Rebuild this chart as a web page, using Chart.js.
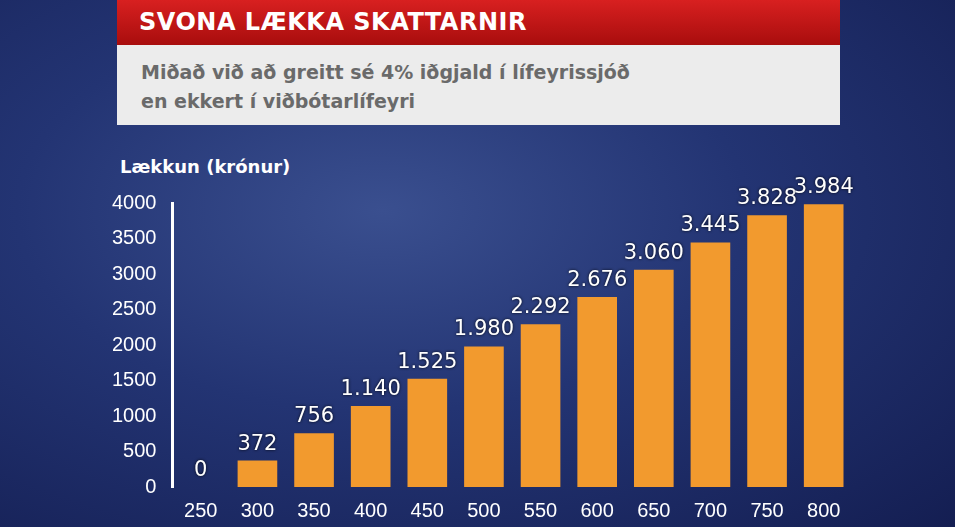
<!DOCTYPE html>
<html>
<head>
<meta charset="utf-8">
<script src="https://cdn.jsdelivr.net/npm/chart.js@4"></script>
<style>
  body { margin: 0; width: 955px; height: 527px; overflow: hidden;
    background: radial-gradient(ellipse at 40% 40%, #3a4f8f 0%, #233473 45%, #141e52 100%);
    font-family: "DejaVu Sans", sans-serif; }
  #head { position: absolute; left: 117px; top: 0; width: 723px; height: 45px;
    background: linear-gradient(#d82020, #a80d0d); color: #fff; font-weight: bold;
    font-size: 24px; line-height: 45px; padding-left: 22px; box-sizing: border-box; letter-spacing: 0.5px; }
  #sub { position: absolute; left: 117px; top: 45px; width: 723px; height: 80px;
    background: #ececec; color: #6a6a6a; font-weight: bold; font-size: 19px;
    padding: 13px 0 0 24px; box-sizing: border-box; line-height: 29px; }
  #ylab { position: absolute; left: 120px; top: 156px; color: #fff; font-weight: bold; font-size: 18px; }
  #wrap { position: absolute; left: 104px; top: 160px; width: 756px; height: 367px; }
</style>
</head>
<body>
<div id="head">SVONA LÆKKA SKATTARNIR</div>
<div id="sub">Miðað við að greitt sé 4% iðgjald í lífeyrissjóð<br>en ekkert í viðbótarlífeyri</div>
<div id="ylab">Lækkun (krónur)</div>
<div id="wrap"><canvas id="c"></canvas></div>
<script>
// gögn
const flokkar = ['250','300','350','400','450','500','550','600','650','700','750','800'];
const laekkun = [0, 372, 756, 1140, 1525, 1980, 2292, 2676, 3060, 3445, 3828, 3984];
const merki = ['0','372','756','1.140','1.525','1.980','2.292','2.676','3.060','3.445','3.828','3.984'];

const gildiPlugin = {
  id: 'gildi',
  afterDatasetsDraw(chart) {
    const ctx = chart.ctx;
    const meta = chart.getDatasetMeta(0);
    ctx.save();
    ctx.font = '21px "DejaVu Sans"';
    ctx.textAlign = 'center';
    ctx.textBaseline = 'bottom';
    ctx.fillStyle = '#fff';
    ctx.shadowColor = 'rgba(0,0,0,0.9)';
    ctx.shadowBlur = 3;
    meta.data.forEach((bar, i) => ctx.fillText(merki[i], bar.x, bar.y - 6));
    ctx.restore();
  }
};

new Chart(document.getElementById('c'), {
  type: 'bar',
  data: { labels: flokkar, datasets: [{ data: laekkun, backgroundColor: '#f29a2e',
    barPercentage: 0.7, categoryPercentage: 1 }] },
  options: {
    responsive: true, maintainAspectRatio: false, animation: false,
    layout: { padding: { top: 43, right: 8, bottom: 0 } },
    plugins: { legend: { display: false }, tooltip: { enabled: false } },
    scales: {
      x: { grid: { display: false }, border: { display: false },
        ticks: { color: '#fff', font: { size: 20 }, padding: 4 } },
      y: { min: 0, max: 4000, grid: { display: false },
        border: { display: true, color: '#fff', width: 3 },
        ticks: { stepSize: 500, color: '#fff', font: { size: 20 }, padding: 8,
          callback: v => String(v) } }
    }
  },
  plugins: [gildiPlugin]
});
</script>
</body>
</html>
